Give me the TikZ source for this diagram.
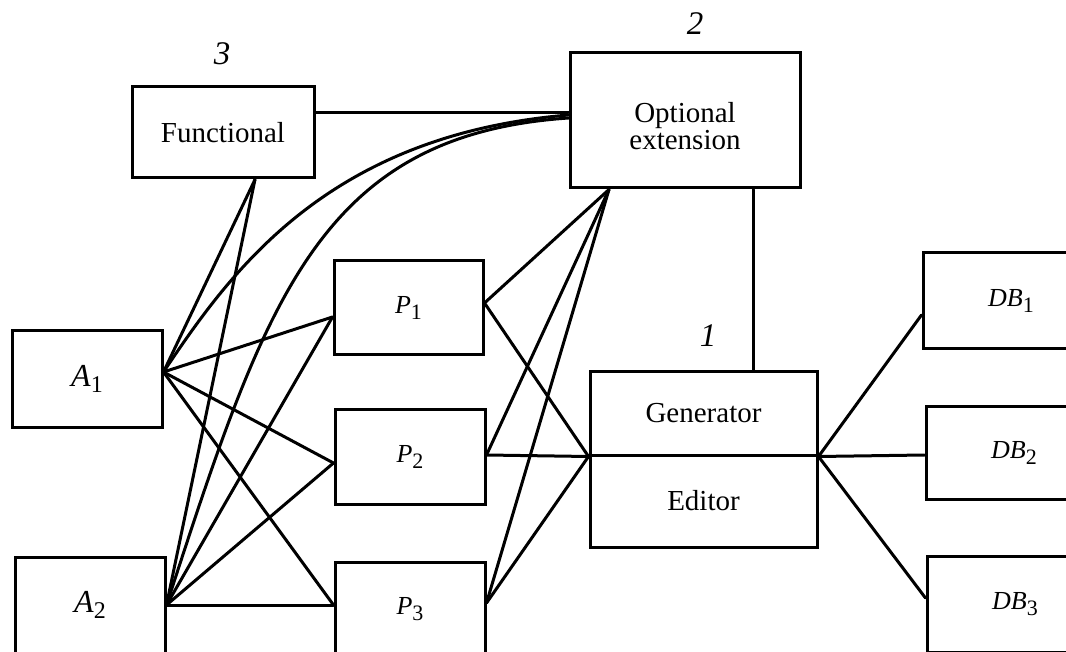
\documentclass[tikz,border=0pt]{standalone}
\usepackage{fontspec}
\setmainfont{Liberation Serif}
\usetikzlibrary{calc}
% italic letter with a lowered, slightly smaller index
\newcommand{\idx}[3]{\textit{#1}\raisebox{-6pt}{\fontsize{#3}{#3}\selectfont #2}}

\begin{document}
\begin{tikzpicture}[x=1pt,y=-1pt,
  blk/.style={draw, line width=3pt, inner sep=0pt, align=center,
              font=\fontsize{29}{27}\selectfont},
  mathblk/.style={blk, font=\fontsize{26}{26}\selectfont},
  wire/.style={line width=3pt, line join=round, line cap=round},
  num/.style={inner sep=0pt, font=\fontsize{33}{33}\selectfont\itshape}]
\useasboundingbox (0,0) rectangle (1066,652);
\clip (0,0) rectangle (1066,652);

% blocks
\node[blk, minimum width=182pt, minimum height=91pt] (func) at (223,132.5) {Functional};
\node[blk, minimum width=230pt, minimum height=135pt] (opt) at (685,120.5) {};
\node[inner sep=0pt, align=center, font=\fontsize{29}{27}\selectfont] (optt) at (685,126) {Optional\\extension};
\node[blk, minimum width=227pt, minimum height=83pt] (gen) at (703.5,413.5) {Generator};
\node[blk, minimum width=227pt, minimum height=92pt] (edit) at (703.5,501) {Editor};

\node[mathblk, minimum width=150pt, minimum height=96pt, font=\fontsize{32}{32}\selectfont] (A1) at (87,379) {\idx{A}{1}{24}};
\node[mathblk, minimum width=150pt, minimum height=96pt, font=\fontsize{32}{32}\selectfont] (A2) at (90,605) {\idx{A}{2}{24}};

\node[mathblk, minimum width=149pt, minimum height=94pt] (P1) at (408.5,308) {\idx{P}{1}{22}};
\node[mathblk, minimum width=150pt, minimum height=95pt] (P2) at (410,456.5) {\idx{P}{2}{22}};
\node[mathblk, minimum width=150pt, minimum height=94pt] (P3) at (410,609) {\idx{P}{3}{22}};

\node[mathblk, minimum width=176pt, minimum height=96pt] (DB1) at (1011,301) {\idx{DB}{1}{22}};
\node[mathblk, minimum width=176pt, minimum height=93pt] (DB2) at (1014,452.5) {\idx{DB}{2}{22}};
\node[mathblk, minimum width=176pt, minimum height=96pt] (DB3) at (1015,604) {\idx{DB}{3}{22}};

% block numbers
\node[num] (n3) at (222,54) {3};
\node[num] (n2) at (695,24) {2};
\node[num] (n1) at (708,336) {1};

% connection points on the block borders
\coordinate (fB) at ($(func.south)+(32,0)$);
\coordinate (fR) at ($(func.east)+(0,-19.5)$);
\coordinate (oL1) at ($(opt.west)+(0,-5.5)$);
\coordinate (oL2) at ($(opt.west)+(0,-2.5)$);
\coordinate (oB) at ($(opt.south)+(-76,0)$);
\coordinate (a1R) at ($(A1.east)+(0,-7)$);
\coordinate (a2R) at (A2.east);
\coordinate (p1L) at ($(P1.west)+(0,9)$);
\coordinate (p1R) at ($(P1.east)+(0,-5)$);
\coordinate (p2L) at ($(P2.west)+(0,6.5)$);
\coordinate (p2R) at ($(P2.east)+(0,-1.5)$);
\coordinate (p3L) at ($(P3.west)+(0,-4)$);
\coordinate (p3R) at ($(P3.east)+(0,-6)$);
\coordinate (d1L) at ($(DB1.west)+(0,14)$);
\coordinate (d2L) at ($(DB2.west)+(0,2.5)$);
\coordinate (d3L) at ($(DB3.west)+(0,-6)$);
\coordinate (gT) at ($(gen.north)+(49.5,0)$);

% functional and optional extension
\draw[wire] (fR) -- (fR -| opt.west);
\draw[wire] (fB) -- (a1R);
\draw[wire] (fB) -- (a2R);
\draw[wire] (oL1) .. controls +(-240,20) and +(68,-102) .. (a1R);
\draw[wire] (oL2) .. controls +(-250,17) and +(99,-304) .. (a2R);
\draw[wire] (gT |- opt.south) -- (gT);

% A blocks to P blocks
\foreach \a in {a1R,a2R}
  \foreach \p in {p1L,p2L,p3L}
    \draw[wire] (\a) -- (\p);

% P blocks to the optional extension and to the generator
\foreach \p in {p1R,p2R,p3R} {
  \draw[wire] (oB) -- (\p);
  \draw[wire] (\p) -- (gen.south west);
}

% generator to the data bases
\foreach \d in {d1L,d2L,d3L}
  \draw[wire] (gen.south east) -- (\d);
\end{tikzpicture}
\end{document}
